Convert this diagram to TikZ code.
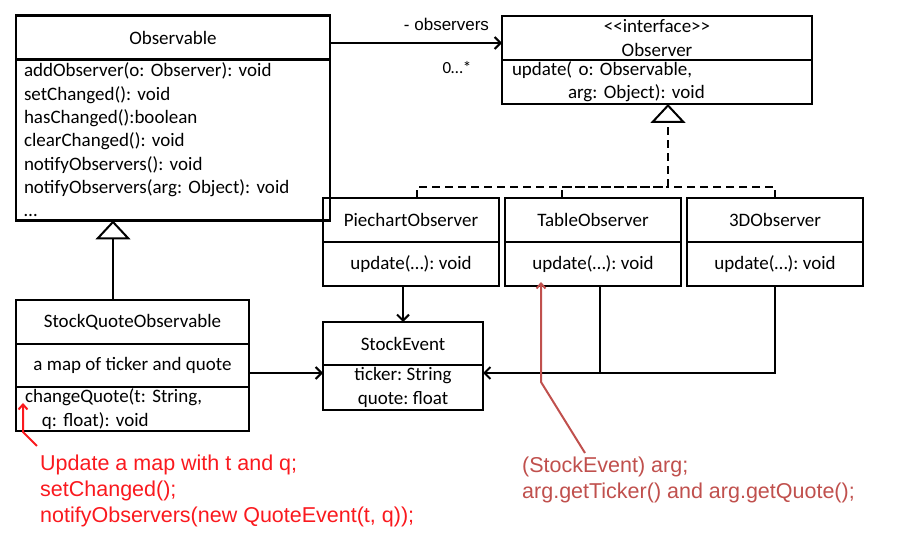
\documentclass[tikz,border=0pt]{standalone}
\usepackage{fontspec}
\setmainfont{Carlito}
\newfontfamily\arialfont{Liberation Sans}
\usetikzlibrary{arrows.meta,positioning}
\definecolor{notered}{RGB}{250,25,30}
\definecolor{notebrick}{RGB}{192,80,77}
\newcommand\umlfont{\fontsize{19}{23.3}\selectfont}
\newcommand\notefont{\arialfont\fontsize{21.5}{26}\selectfont}
\newcommand\tagfont{\arialfont\fontsize{17}{20}\selectfont}
\frenchspacing

\begin{document}
\begin{tikzpicture}[
  x=1pt, y=-1pt,
  font=\umlfont,
  >={Straight Barb[length=6pt,width=12pt]},
  head/.style={draw, line width=2.4pt, inner sep=0pt, outer sep=0pt, minimum height=44pt, align=center},
  body/.style={draw, line width=2.4pt, inner ysep=0pt, outer sep=0pt, align=left},
  link/.style={line width=2pt},
  assoc/.style={->, line width=2pt},
  inherit/.style={-{Triangle[open,length=19pt,width=35pt]}, line width=2pt},
  realize/.style={link, dash pattern=on 8pt off 5pt},
  note/.style={font=\notefont, inner sep=0pt, align=left, anchor=north west},
  callout/.style={-{Straight Barb[length=5pt,width=9pt]}, line width=2pt}
]
\useasboundingbox (0,0) rectangle (900,534);

% Observable
\node[head, minimum width=314pt] (obshead) at (173,37.5) {Observable};
\node[body, below=0pt of obshead, text width=298pt, inner xsep=8pt, minimum height=161pt] (obsbody)
  {addObserver(o: Observer): void\\setChanged(): void\\hasChanged():boolean\\clearChanged(): void\\notifyObservers(): void\\notifyObservers(arg: Object): void\\…};

% Observer interface
\node[head, minimum width=310pt] (obvhead) at (657,38) {<\kern0pt<interface>\kern0pt>\\Observer};
\node[body, below=0pt of obvhead, text width=290pt, inner xsep=10pt, minimum height=44pt] (obvbody)
  {update( o: Observable,\\\hspace*{56pt}arg: Object): void};

% concrete observers
\node[head, minimum width=176pt] (piehead) at (411,220) {PiechartObserver};
\node[head, minimum width=176pt, below=0pt of piehead] (piebody) {update(…): void};
\node[head, minimum width=176pt, right=6pt of piehead] (tabhead) {TableObserver};
\node[head, minimum width=176pt, below=0pt of tabhead] (tabbody) {update(…): void};
\node[head, minimum width=176pt, right=6pt of tabhead] (d3head) {3DObserver};
\node[head, minimum width=176pt, below=0pt of d3head] (d3body) {update(…): void};

% StockEvent
\node[head, minimum width=160pt, minimum height=43pt] (sehead) at (403,343.5) {StockEvent};
\node[head, minimum width=160pt, minimum height=45pt, below=0pt of sehead] (sebody) {ticker: String\\quote: float};

% StockQuoteObservable
\node[head, minimum width=233pt] (sqohead) at (132.5,322) {StockQuoteObservable};
\node[head, minimum width=233pt, minimum height=43pt, below=0pt of sqohead] (sqoattr) {a map of ticker and quote};
\node[body, below=0pt of sqoattr, text width=215pt, inner xsep=9pt, minimum height=44pt] (sqometh)
  {changeQuote(t: String,\\\hspace*{17pt}q: float): void};

% association
\draw[assoc] ([yshift=-5.5pt]obshead.east) -- ([yshift=-5.5pt]obshead.east -| obvhead.west);
\node[font=\tagfont, inner sep=0pt] (role) at (446.5,24) {- observers};
\node[font=\fontsize{17}{20}\selectfont, inner sep=0pt] (mult) at (457,68) {0…*};

% inheritance
\draw[inherit] ([xshift=-19.5pt]sqohead.north) -- ([xshift=-19.5pt]sqohead.north |- obsbody.south);

\coordinate (bus) at (668,187);
\draw[realize] ([xshift=6pt]piehead.north) |- (bus);
\draw[realize] ([xshift=-31pt]tabhead.north) |- (bus);
\draw[realize] (d3head.north) |- (bus);
\draw[realize, inherit] (bus) -- (bus |- obvbody.south);

% uses of StockEvent
\draw[assoc] (sehead.north |- piebody.south) -- (sehead.north);
\draw[assoc] ([yshift=-7.5pt]sqoattr.east) -- ([yshift=-7.5pt]sqoattr.east -| sebody.west);
\coordinate (sejoin) at ([yshift=14.5pt]sebody.east);
\draw[assoc] (d3body.south) |- (sejoin);
\draw[link] ([xshift=7pt]tabbody.south) -- ([xshift=7pt]tabbody.south |- sejoin);

% notes
\node[note, text=notered] (upd) at (40,455) {Update a map with t and q;\\setChanged();\\notifyObservers(new QuoteEvent(t, q));};
\node[note, text=notebrick] (cast) at (522,457) {(StockEvent) arg;\\arg.getTicker() and arg.getQuote();};

\coordinate (cqtip) at ([xshift=7pt,yshift=6pt]sqometh.west);
\draw[callout, notered] ([xshift=-3pt,yshift=9pt]upd.north west) -- ([yshift=-29pt]cqtip) -- (cqtip);
\coordinate (uptip) at ([xshift=-52pt,yshift=4pt]tabbody.south);
\draw[callout, notebrick] ([xshift=63pt,yshift=4pt]cast.north west) -- ([yshift=-100pt]uptip) -- (uptip);

\end{tikzpicture}
\end{document}
